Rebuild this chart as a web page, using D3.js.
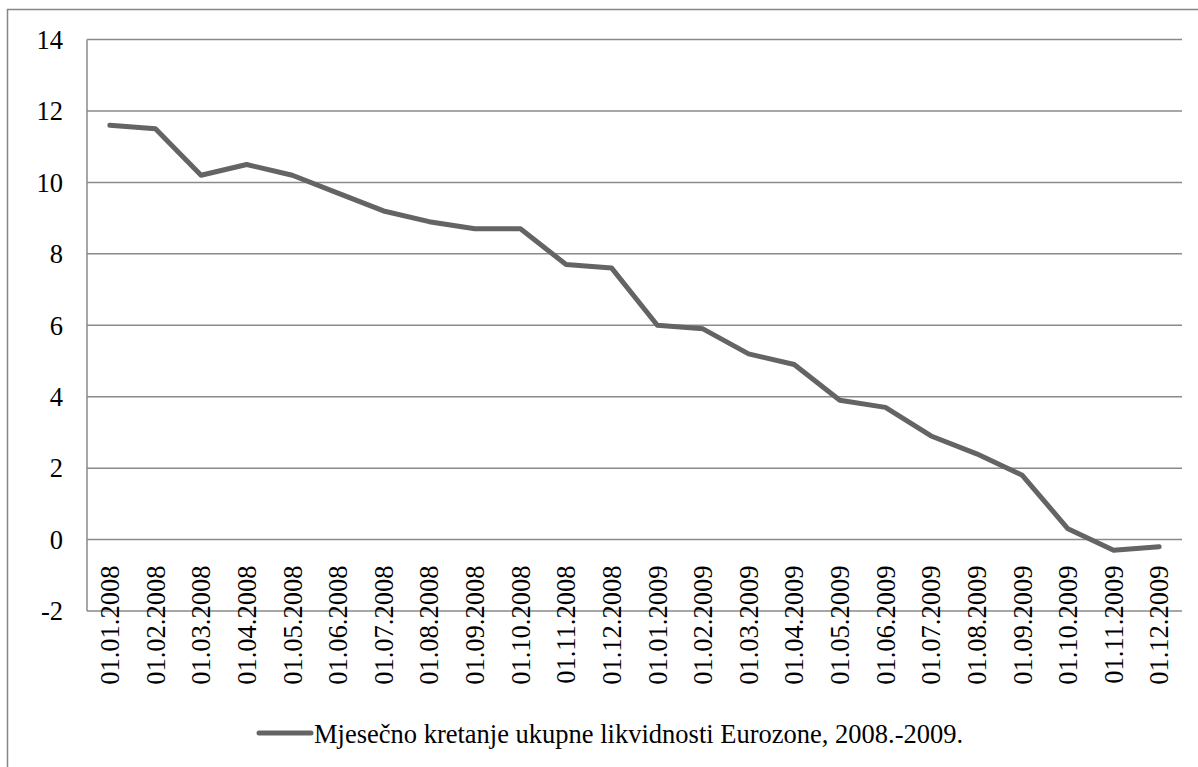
<!DOCTYPE html>
<html>
<head>
<meta charset="utf-8">
<script src="https://cdn.jsdelivr.net/npm/d3@7"></script>
<style>
  body { margin: 0; background: #fff; }
</style>
</head>
<body>
<div id="chart"></div>
<script>
// Data
const months = [
  "01.01.2008", "01.02.2008", "01.03.2008", "01.04.2008", "01.05.2008", "01.06.2008",
  "01.07.2008", "01.08.2008", "01.09.2008", "01.10.2008", "01.11.2008", "01.12.2008",
  "01.01.2009", "01.02.2009", "01.03.2009", "01.04.2009", "01.05.2009", "01.06.2009",
  "01.07.2009", "01.08.2009", "01.09.2009", "01.10.2009", "01.11.2009", "01.12.2009"
];
const liquidity = [
  11.6, 11.5, 10.2, 10.5, 10.2, 9.7, 9.2, 8.9, 8.7, 8.7, 7.7, 7.6,
  6.0, 5.9, 5.2, 4.9, 3.9, 3.7, 2.9, 2.4, 1.8, 0.3, -0.3, -0.2
];
const yTicks = [-2, 0, 2, 4, 6, 8, 10, 12, 14];
const seriesName = "Mjesečno kretanje ukupne likvidnosti Eurozone, 2008.-2009.";

const width = 1198, height = 767;
const plotLeft = 87, plotRight = 1182, plotTop = 39.5, plotBottom = 611;
const serif = "Liberation Serif, DejaVu Serif, serif";

const svg = d3.select("#chart").append("svg")
    .attr("width", width)
    .attr("height", height)
    .attr("font-family", serif);

// outer chart border (right/bottom run off the picture)
svg.append("rect")
    .attr("x", 7.5).attr("y", 9.5)
    .attr("width", 1200).attr("height", 800)
    .attr("fill", "none")
    .attr("stroke", "#868686")
    .attr("stroke-width", 1.5);

const x = d3.scaleBand().domain(months).range([plotLeft, plotRight]);
const y = d3.scaleLinear().domain([-2, 14]).range([plotBottom, plotTop]);

// gridlines
svg.append("g")
  .selectAll("line")
  .data(yTicks)
  .join("line")
    .attr("x1", plotLeft).attr("x2", plotRight)
    .attr("y1", d => y(d)).attr("y2", d => y(d))
    .attr("stroke", "#8a8a8a")
    .attr("stroke-width", 1.5);

// vertical axis line
svg.append("line")
    .attr("x1", plotLeft).attr("x2", plotLeft)
    .attr("y1", y(14)).attr("y2", y(-2))
    .attr("stroke", "#8a8a8a")
    .attr("stroke-width", 1.5);

// y tick labels
svg.append("g")
  .selectAll("text")
  .data(yTicks)
  .join("text")
    .attr("x", 63)
    .attr("y", d => y(d))
    .attr("dy", "0.35em")
    .attr("text-anchor", "end")
    .attr("font-size", 26.5)
    .text(d => d);

// category labels, rotated, hung from the zero line
svg.append("g")
  .selectAll("text")
  .data(months)
  .join("text")
    .attr("transform", d => `translate(${x(d) + x.bandwidth() / 2}, ${y(0) + 26}) rotate(-90)`)
    .attr("dy", "0.35em")
    .attr("text-anchor", "end")
    .attr("font-size", 26.5)
    .text(d => d);

// series line
const line = d3.line()
    .x((d, i) => x(months[i]) + x.bandwidth() / 2)
    .y(d => y(d));

svg.append("path")
    .datum(liquidity)
    .attr("d", line)
    .attr("fill", "none")
    .attr("stroke", "#646464")
    .attr("stroke-width", 5)
    .attr("stroke-linejoin", "round")
    .attr("stroke-linecap", "round");

// legend
svg.append("line")
    .attr("x1", 259).attr("x2", 311)
    .attr("y1", 733).attr("y2", 733)
    .attr("stroke", "#646464")
    .attr("stroke-width", 5)
    .attr("stroke-linecap", "round");

svg.append("text")
    .attr("x", 314)
    .attr("y", 743)
    .attr("font-size", 26.5)
    .text(seriesName);
</script>
</body>
</html>
